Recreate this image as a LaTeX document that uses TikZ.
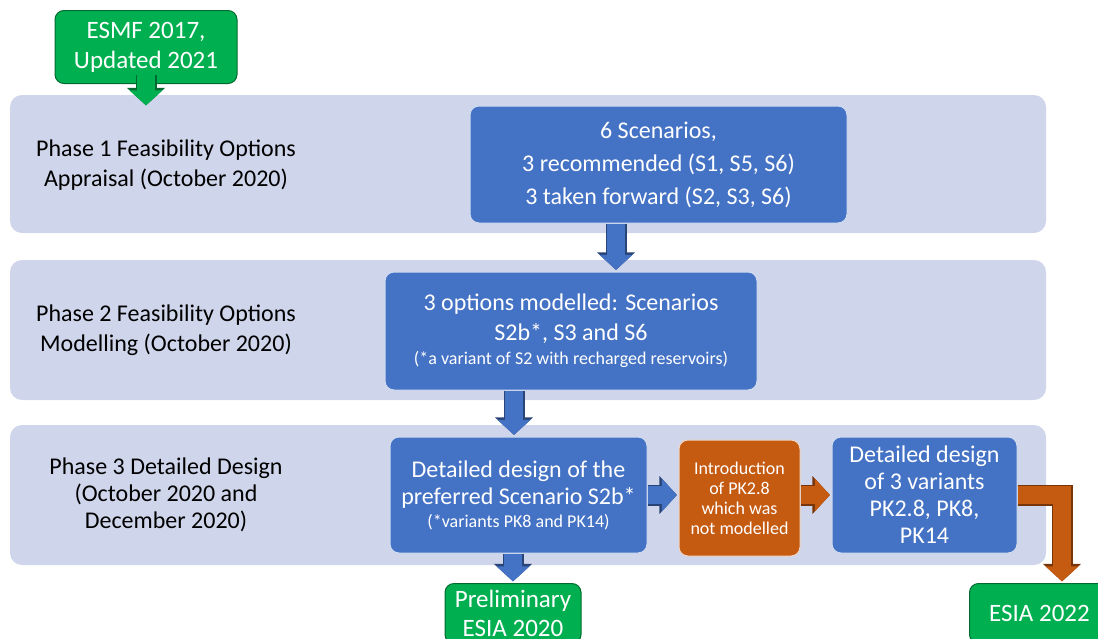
\documentclass[tikz,border=0pt]{standalone}
\usepackage{fontspec}
\setmainfont{Carlito}
\usetikzlibrary{arrows.meta}

\definecolor{bandgray}{HTML}{CFD5EA}
\definecolor{boxblue}{HTML}{4472C4}
\definecolor{boxgreen}{HTML}{00B050}
\definecolor{boxorange}{HTML}{C55A11}

\tikzset{
  band/.style={rectangle, rounded corners=12pt, fill=bandgray, inner sep=0pt},
  phase/.style={align=center, font=\fontsize{24}{30}\selectfont},
  bluebox/.style={rectangle, rounded corners=9pt, fill=boxblue, draw=white!75!boxblue, line width=1pt, text=white, align=center, inner sep=0pt, font=\fontsize{24}{33}\selectfont},
  greenbox/.style={rectangle, rounded corners=9pt, fill=boxgreen, draw=boxgreen!60!black, line width=1pt, text=white, align=center, inner sep=0pt, font=\fontsize{25}{29}\selectfont},
  orangebox/.style={rectangle, rounded corners=9pt, fill=boxorange, draw=white!75!boxorange, line width=1pt, text=white, align=center, inner sep=0pt, font=\fontsize{18}{20}\selectfont},
  blockarrow/.style={line width=#1, -{Triangle[length=15pt,width=32pt]}},
  outline/.style={preaction={draw=#1!60!black, line width=21pt, -{Triangle[length=17.5pt,width=37pt]}}},
  bluearrow/.style={outline=boxblue, blockarrow=18pt, draw=boxblue, shorten >=1.6pt},
  greenarrow/.style={outline=boxgreen, blockarrow=18pt, draw=boxgreen, shorten >=1.6pt},
  orangearrow/.style={outline=boxorange, blockarrow=18pt, draw=boxorange, shorten >=1.6pt},
}

\begin{document}
\begin{tikzpicture}[x=1pt, y=-1pt]
    \useasboundingbox (0,0) rectangle (1098,638);
    \clip (0,0) rectangle (1098,638);

    % grey phase bands
    \node[band, minimum width=1036pt, minimum height=138pt] (band1) at (528,164) {};
    \node[band, minimum width=1036pt, minimum height=140pt] (band2) at (528,330) {};
    \node[band, minimum width=1036pt, minimum height=140pt] (band3) at (528,495) {};

    \node[phase] (ph1) at (166,165) {Phase 1 Feasibility Options\\Appraisal (October 2020)};
    \node[phase] (ph2) at (166,330) {Phase 2 Feasibility Options\\Modelling (October 2020)};
    \node[phase, font=\fontsize{24}{27}\selectfont] (ph3) at (166,495) {Phase 3 Detailed Design\\(October 2020 and\\December 2020)};

    \node[greenbox, font=\fontsize{25}{30}\selectfont, minimum width=182pt, minimum height=73pt] (esmf) at (146,47) {ESMF 2017,\\Updated 2021};

    \node[bluebox, minimum width=377pt, minimum height=117pt] (scen) at (658.5,164.5)
        {6 Scenarios,\\3 recommended (S1, S5, S6)\\3 taken forward (S2, S3, S6)};
    \node[bluebox, font=\fontsize{24}{30}\selectfont, minimum width=372pt, minimum height=118pt] (opts) at (571,331)
        {3 options modelled: Scenarios\\S2b*, S3 and S6\\[-6pt]{\fontsize{18}{20}\selectfont (*a variant of S2 with recharged reservoirs)}};
    \node[bluebox, font=\fontsize{24}{27}\selectfont, minimum width=257pt, minimum height=116pt] (pref) at (518.5,495)
        {Detailed design of the\\preferred Scenario S2b*\\[-4pt]{\fontsize{18}{20}\selectfont (*variants PK8 and PK14)}};
    \node[orangebox, minimum width=121pt, minimum height=116pt] (intro) at (739.5,498)
        {Introduction\\of PK2.8\\which was\\not modelled};
    \node[bluebox, minimum width=185pt, minimum height=116pt, font=\fontsize{24}{27}\selectfont] (vars) at (924.5,495)
        {Detailed design\\of 3 variants\\PK2.8, PK8,\\PK14};

    \node[greenbox, minimum width=136pt, minimum height=60pt, anchor=north] (prelim) at (513,583)
        {Preliminary\\ESIA 2020};
    \node[greenbox, minimum width=140pt, minimum height=60pt, anchor=north west] (esia) at (969,583)
        {ESIA 2022};

    \coordinate (esmfin) at (146,107);
    \draw[greenarrow] ([yshift=9pt]esmf.south) -- (esmfin);
    \draw[bluearrow] (scen.south -| 616,0) -- (opts.north -| 616,0);
    \draw[bluearrow] (opts.south -| 514,0) -- (pref.north -| 514,0);
    \draw[bluearrow] (pref.south -| 513,0) -- (prelim.north);
    \draw[bluearrow] (pref.east) -- (intro.west |- pref.east);
    \draw[orangearrow] (intro.east |- vars.west) -- (vars.west);
    \draw[orangearrow] (vars.east) -| ([xshift=93pt]esia.north west);
\end{tikzpicture}
\end{document}
